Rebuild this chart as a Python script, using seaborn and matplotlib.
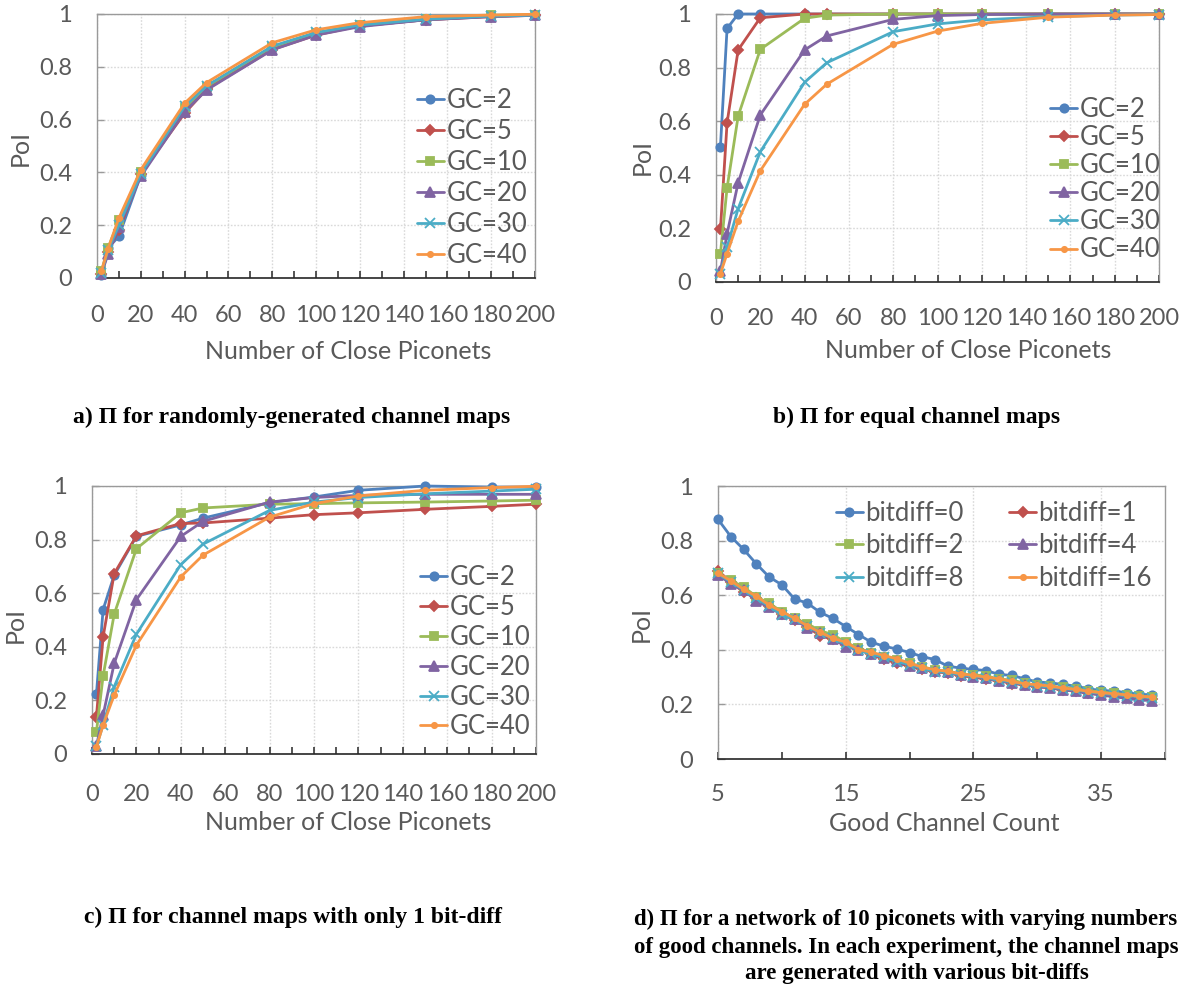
import matplotlib
matplotlib.use('Agg')
import matplotlib.pyplot as plt
import seaborn as sns
import numpy as np
import pandas as pd

# ---------------- data ----------------
x_piconets = [2, 5, 10, 20, 40, 50, 80, 100, 120, 150, 180, 200]
gc_labels = ['GC=2', 'GC=5', 'GC=10', 'GC=20', 'GC=30', 'GC=40']

a_gc2 = [0.010, 0.113, 0.158, 0.390, 0.637, 0.720, 0.870, 0.925, 0.955, 0.978, 0.992, 0.996]
a_gc5 = [0.015, 0.100, 0.183, 0.395, 0.624, 0.715, 0.865, 0.920, 0.955, 0.978, 0.990, 0.995]
a_gc10 = [0.025, 0.113, 0.218, 0.400, 0.643, 0.725, 0.875, 0.928, 0.960, 0.980, 0.995, 0.998]
a_gc20 = [0.015, 0.090, 0.195, 0.385, 0.630, 0.712, 0.864, 0.920, 0.952, 0.978, 0.990, 0.995]
a_gc30 = [0.020, 0.105, 0.200, 0.395, 0.650, 0.728, 0.878, 0.930, 0.958, 0.980, 0.992, 0.996]
a_gc40 = [0.025, 0.110, 0.227, 0.410, 0.662, 0.740, 0.891, 0.940, 0.967, 0.990, 0.996, 0.999]

b_gc2 = [0.504, 0.946, 1.000, 1.000, 1.000, 1.000, 1.000, 1.000, 1.000, 1.000, 1.000, 1.000]
b_gc5 = [0.196, 0.594, 0.866, 0.986, 1.000, 1.000, 1.000, 1.000, 1.000, 1.000, 1.000, 1.000]
b_gc10 = [0.106, 0.351, 0.619, 0.868, 0.984, 0.996, 1.000, 1.000, 1.000, 1.000, 1.000, 1.000]
b_gc20 = [0.040, 0.180, 0.370, 0.623, 0.866, 0.918, 0.980, 0.994, 0.998, 1.000, 1.000, 1.000]
b_gc30 = [0.030, 0.130, 0.274, 0.486, 0.745, 0.818, 0.934, 0.963, 0.978, 0.990, 0.996, 0.998]
b_gc40 = [0.031, 0.106, 0.227, 0.415, 0.663, 0.738, 0.887, 0.936, 0.965, 0.988, 0.996, 0.998]

c_gc2 = [0.224, 0.539, 0.667, 0.812, 0.855, 0.880, 0.938, 0.959, 0.984, 1.000, 0.996, 0.996]
c_gc5 = [0.139, 0.437, 0.673, 0.814, 0.860, 0.862, 0.880, 0.893, 0.900, 0.913, 0.924, 0.932]
c_gc10 = [0.083, 0.291, 0.522, 0.766, 0.900, 0.918, 0.932, 0.934, 0.937, 0.940, 0.944, 0.947]
c_gc20 = [0.030, 0.145, 0.338, 0.576, 0.812, 0.868, 0.940, 0.957, 0.965, 0.969, 0.969, 0.969]
c_gc30 = [0.030, 0.108, 0.251, 0.447, 0.707, 0.783, 0.909, 0.940, 0.957, 0.971, 0.981, 0.988]
c_gc40 = [0.027, 0.108, 0.220, 0.406, 0.661, 0.742, 0.884, 0.934, 0.963, 0.984, 0.994, 0.999]

good_channels = list(range(5, 40))
bd_labels = ['bitdiff=0', 'bitdiff=1', 'bitdiff=2', 'bitdiff=4', 'bitdiff=8', 'bitdiff=16']
d_bd0 = [0.878, 0.815, 0.768, 0.715, 0.667, 0.638, 0.586, 0.571, 0.537, 0.515,
         0.485, 0.456, 0.428, 0.413, 0.403, 0.390, 0.375, 0.364, 0.340, 0.333,
         0.328, 0.324, 0.310, 0.306, 0.294, 0.282, 0.279, 0.273, 0.267, 0.257,
         0.251, 0.249, 0.243, 0.237, 0.235]
d_bd1 = [0.690, 0.648, 0.612, 0.590, 0.560, 0.530, 0.510, 0.485, 0.450, 0.440,
         0.418, 0.402, 0.383, 0.365, 0.352, 0.340, 0.330, 0.318, 0.316, 0.305,
         0.300, 0.292, 0.287, 0.276, 0.272, 0.264, 0.262, 0.252, 0.250, 0.242,
         0.238, 0.233, 0.228, 0.222, 0.218]
d_bd2 = [0.680, 0.655, 0.630, 0.595, 0.570, 0.540, 0.515, 0.495, 0.470, 0.455,
         0.428, 0.405, 0.390, 0.372, 0.362, 0.350, 0.338, 0.326, 0.322, 0.312,
         0.308, 0.305, 0.292, 0.290, 0.277, 0.270, 0.267, 0.262, 0.257, 0.250,
         0.246, 0.240, 0.236, 0.230, 0.228]
d_bd4 = [0.675, 0.642, 0.618, 0.580, 0.555, 0.530, 0.512, 0.480, 0.462, 0.440,
         0.412, 0.400, 0.385, 0.370, 0.358, 0.342, 0.332, 0.322, 0.318, 0.306,
         0.302, 0.296, 0.286, 0.280, 0.272, 0.265, 0.260, 0.254, 0.248, 0.240,
         0.234, 0.228, 0.222, 0.216, 0.214]
d_bd8 = [0.680, 0.648, 0.620, 0.588, 0.560, 0.528, 0.512, 0.488, 0.462, 0.442,
         0.420, 0.398, 0.384, 0.373, 0.357, 0.346, 0.332, 0.320, 0.318, 0.308,
         0.304, 0.298, 0.288, 0.283, 0.273, 0.268, 0.263, 0.258, 0.253, 0.246,
         0.240, 0.236, 0.232, 0.228, 0.224]
d_bd16 = [0.681, 0.653, 0.622, 0.596, 0.564, 0.540, 0.515, 0.488, 0.464, 0.442,
          0.428, 0.401, 0.391, 0.379, 0.367, 0.351, 0.336, 0.327, 0.321, 0.312,
          0.306, 0.300, 0.294, 0.284, 0.276, 0.272, 0.267, 0.260, 0.255, 0.248,
          0.243, 0.239, 0.235, 0.230, 0.227]

y_ticks = [0, 0.2, 0.4, 0.6, 0.8, 1.0]
y_tick_labels = ['0', '0.2', '0.4', '0.6', '0.8', '1']
x_ticks_pico = [0, 20, 40, 60, 80, 100, 120, 140, 160, 180, 200]
x_ticks_gc = [5, 15, 25, 35]

captions = {
    'a': ['a) \u03a0 for randomly-generated channel maps'],
    'b': ['b) \u03a0 for equal channel maps'],
    'c': ['c) \u03a0 for channel maps with only 1 bit-diff'],
    'd': ['d) \u03a0 for a network of 10 piconets with varying numbers',
          'of good channels. In each experiment, the channel maps',
          'are generated with various bit-diffs'],
}

# ---------------- style ----------------
sns.set_theme(style='white')
plt.rcParams['font.family'] = ['Lato', 'DejaVu Sans']

COLORS = ['#4F81BD', '#C0504D', '#9BBB59', '#8064A2', '#4BACC6', '#F79646']
MARKERS = ['o', 'D', 's', '^', 'x', 'o']
MSIZES = [6.0, 5.5, 6.0, 6.5, 6.5, 3.8]
TXT = '#595959'
FS_TICK = 17
FS_LEG = 18.5

W, H = 1191, 989
fig = plt.figure(figsize=(W / 100, H / 100), dpi=100)


def add_axes(l, r, t, b):
    return fig.add_axes([l / W, 1 - b / H, (r - l) / W, (b - t) / H])


def draw(ax, x, series, labels):
    for i, (y, lab) in enumerate(zip(series, labels)):
        sns.lineplot(x=x, y=y, ax=ax, color=COLORS[i], marker=MARKERS[i],
                     markersize=MSIZES[i], markeredgecolor=COLORS[i],
                     markeredgewidth=1.3, linewidth=2.0, label=lab,
                     clip_on=False, zorder=3 + i, sort=False, errorbar=None)


def style(ax, xlim, major, minor, xpad):
    ax.set_xlim(*xlim)
    ax.set_ylim(0, 1)
    ax.set_xticks(major)
    ax.set_xticks(minor, minor=True)
    ax.set_xticklabels([str(v) for v in major])
    ax.set_yticks(y_ticks)
    ax.set_yticklabels(y_tick_labels)
    ax.grid(True, which='major', color='#D9D9D9', linestyle=(0, (1.2, 1.2)), linewidth=1.0)
    ax.set_axisbelow(True)
    for s in ['top', 'right', 'left']:
        ax.spines[s].set_color('#9A9A9A')
        ax.spines[s].set_linewidth(1.0)
        ax.spines[s].set_visible(True)
    ax.spines['bottom'].set_color('#262626')
    ax.spines['bottom'].set_linewidth(1.2)
    ax.spines['bottom'].set_visible(True)
    ax.tick_params(axis='x', which='both', direction='in', length=5, width=1.1,
                   color='#262626', labelsize=FS_TICK, labelcolor=TXT, pad=xpad,
                   bottom=True)
    ax.tick_params(axis='y', which='both', direction='in', length=5, width=1,
                   color='#9A9A9A', labelsize=FS_TICK, labelcolor=TXT, pad=18,
                   left=True)
    ax.set_xlabel('')
    ax.set_ylabel('')


def labels(ax, xlabel, xl_pos, ylabel, yl_pos):
    ax.set_xlabel(xlabel, fontsize=FS_TICK + 1, color=TXT)
    ax.xaxis.label.set_va('center')
    ax.xaxis.set_label_coords(*xl_pos)
    ax.set_ylabel(ylabel, fontsize=FS_TICK + 1, color=TXT)
    ax.yaxis.label.set_va('center')
    ax.yaxis.set_label_coords(*yl_pos)


def legend(ax, anchor, spacing, ncol=1, order=None):
    handles, labs = ax.get_legend_handles_labels()
    if order is not None:
        handles = [handles[i] for i in order]
        labs = [labs[i] for i in order]
    ax.legend(handles, labs, loc='upper left', bbox_to_anchor=anchor, frameon=False,
              fontsize=FS_LEG, handlelength=1.05, handletextpad=0.1,
              labelspacing=spacing, borderpad=0, borderaxespad=0, ncol=ncol,
              columnspacing=1.75, labelcolor=TXT)


def caption(lines, cxs, ys, size=17):
    for line, cx, yy in zip(lines, cxs, ys):
        fig.text(cx / W, 1 - yy / H, line, ha='center', va='center',
                 family=['Liberation Serif', 'DejaVu Serif'], weight='bold',
                 fontsize=size, color='black')


# panel a
ax_a = add_axes(97, 535, 14, 278)
draw(ax_a, x_piconets, [a_gc2, a_gc5, a_gc10, a_gc20, a_gc30, a_gc40], gc_labels)
style(ax_a, (0, 200), x_ticks_pico, list(range(10, 200, 20)), 19.5)
labels(ax_a, 'Number of Close Piconets', (0.573, -0.277), 'PoI', (-0.176, 0.492))
legend(ax_a, (0.73, 0.718), 0.23)

# panel b
ax_b = add_axes(716, 1159, 14, 282)
draw(ax_b, x_piconets, [b_gc2, b_gc5, b_gc10, b_gc20, b_gc30, b_gc40], gc_labels)
style(ax_b, (0, 200), x_ticks_pico, list(range(10, 200, 20)), 18.7)
labels(ax_b, 'Number of Close Piconets', (0.57, -0.257), 'PoI', (-0.167, 0.466))
legend(ax_b, (0.754, 0.69), 0.12)

# panel c
ax_c = add_axes(92, 536, 486, 754)
draw(ax_c, x_piconets, [c_gc2, c_gc5, c_gc10, c_gc20, c_gc30, c_gc40], gc_labels)
style(ax_c, (0, 200), x_ticks_pico, list(range(10, 200, 20)), 21.6)
labels(ax_c, 'Number of Close Piconets', (0.577, -0.257), 'PoI', (-0.173, 0.481))
legend(ax_c, (0.739, 0.705), 0.19)

# panel d
ax_d = add_axes(718, 1165, 486, 759)
draw(ax_d, good_channels, [d_bd0, d_bd1, d_bd2, d_bd4, d_bd8, d_bd16], bd_labels)
style(ax_d, (5, 40), x_ticks_gc, [10, 20, 30, 40], 18)
labels(ax_d, 'Good Channel Count', (0.507, -0.235), 'PoI', (-0.172, 0.495))
legend(ax_d, (0.264, 0.946), 0.30, ncol=2, order=[0, 2, 4, 1, 3, 5])

caption(captions['a'], [292], [417])
caption(captions['b'], [917], [417])
caption(captions['c'], [293], [917])
caption(captions['d'], [906, 906, 917], [919, 947, 973], size=16.5)

fig.savefig('out.png', dpi=100)
